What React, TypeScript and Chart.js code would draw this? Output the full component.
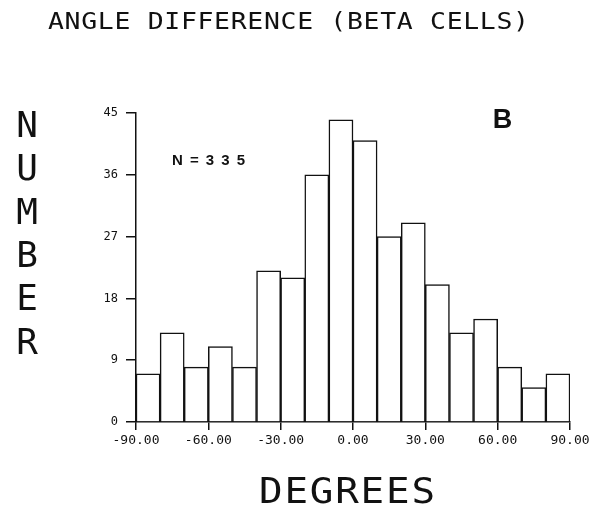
import React, { useEffect, useRef } from "react";
import { Chart, registerables } from "chart.js";

Chart.register(...registerables);

// Histogram of angle differences, 10-degree bins from -90 to 90
const binCenters = [-85, -75, -65, -55, -45, -35, -25, -15, -5, 5, 15, 25, 35, 45, 55, 65, 75, 85];
const counts = [7, 13, 8, 11, 8, 22, 21, 36, 44, 41, 27, 29, 20, 13, 15, 8, 5, 7];

const xMin = -90;
const xMax = 90;
const xTickStep = 30;
const yMin = 0;
const yMax = 45;
const yTickStep = 9;

const titleText = "ANGLE DIFFERENCE (BETA CELLS)";
const yAxisTitle = "NUMBER";
const xAxisTitle = "DEGREES";
const sampleLabel = `N=${counts.reduce((a, b) => a + b, 0)}`;
const panelLabel = "B";

const INK = "#111";
const MONO = "'DejaVu Sans Mono', 'Liberation Mono', monospace";
const SANS = "'Liberation Sans', Arial, sans-serif";

// Draws text character by character, each glyph widened by sx, so it spans x0..x1
function spreadText(
  ctx: CanvasRenderingContext2D,
  text: string,
  x0: number,
  x1: number,
  baseline: number,
  sx = 1
) {
  const chars = Array.from(text);
  const widths = chars.map((c) => ctx.measureText(c).width * sx);
  const total = widths.reduce((a, b) => a + b, 0);
  const gap = chars.length > 1 ? (x1 - x0 - total) / (chars.length - 1) : 0;
  ctx.textAlign = "left";
  ctx.textBaseline = "alphabetic";
  let x = x0;
  chars.forEach((c, i) => {
    ctx.save();
    ctx.translate(x, baseline);
    ctx.scale(sx, 1);
    ctx.fillText(c, 0, 0);
    ctx.restore();
    x += widths[i] + gap;
  });
}

const annotationPlugin = {
  id: "plotterText",
  afterDraw(chart: Chart) {
    const ctx = chart.ctx;
    ctx.save();
    ctx.fillStyle = INK;

    // Title
    ctx.font = `23px ${MONO}`;
    spreadText(ctx, titleText, 48, 529, 29, 1.15);

    // Vertical y-axis title, one letter per line
    ctx.font = `36px ${MONO}`;
    ctx.textAlign = "center";
    ctx.textBaseline = "alphabetic";
    Array.from(yAxisTitle).forEach((c, i) => {
      ctx.fillText(c, 27, 137 + i * 43.3);
    });

    // x-axis title
    ctx.font = `35px ${MONO}`;
    spreadText(ctx, xAxisTitle, 259, 435, 503, 1.12);

    // Sample size
    ctx.font = `bold 15px ${SANS}`;
    spreadText(ctx, sampleLabel, 172, 245, 165);

    // Panel letter
    ctx.font = `bold 27px ${SANS}`;
    ctx.textAlign = "center";
    ctx.fillText(panelLabel, 502.5, 128);

    ctx.restore();
  },
};

export default function App() {
  const canvasRef = useRef<HTMLCanvasElement | null>(null);

  useEffect(() => {
    const canvas = canvasRef.current;
    if (!canvas) return;
    const chart = new Chart(canvas, {
      type: "bar",
      data: {
        datasets: [
          {
            data: binCenters.map((x, i) => ({ x, y: counts[i] })),
            backgroundColor: "#ffffff",
            borderColor: INK,
            borderWidth: 1.5,
            barPercentage: 1,
            categoryPercentage: 1,
          },
        ],
      },
      options: {
        responsive: false,
        animation: false,
        layout: { padding: { top: 113, right: 30, left: 0, bottom: 0 } },
        plugins: {
          legend: { display: false },
          tooltip: { enabled: false },
          title: { display: false },
        },
        scales: {
          x: {
            type: "linear",
            min: xMin,
            max: xMax,
            offset: false,
            afterFit: (s: any) => {
              s.height = 91;
            },
            ticks: {
              stepSize: xTickStep,
              autoSkip: false,
              maxRotation: 0,
              color: INK,
              padding: 3,
              font: { family: MONO, size: 13 },
              callback: (v: any) => Number(v).toFixed(2),
            },
            grid: {
              display: true,
              offset: false,
              drawOnChartArea: false,
              drawTicks: true,
              tickLength: 8,
              color: INK,
              lineWidth: 1.5,
            },
            border: { display: true, color: INK, width: 1.5 },
          },
          y: {
            min: yMin,
            max: yMax,
            afterFit: (s: any) => {
              s.width = 136;
            },
            ticks: {
              stepSize: yTickStep,
              color: INK,
              padding: 8,
              font: { family: MONO, size: 12 },
            },
            grid: {
              display: true,
              drawOnChartArea: false,
              drawTicks: true,
              tickLength: 10,
              color: INK,
              lineWidth: 1.5,
            },
            border: { display: true, color: INK, width: 1.5 },
          },
        },
      } as any,
      plugins: [annotationPlugin],
    });
    return () => chart.destroy();
  }, []);

  return (
    <div style={{ position: "fixed", left: 0, top: 0, width: 600, height: 513, background: "#fff" }}>
      <canvas ref={canvasRef} width={600} height={513} style={{ display: "block" }} />
    </div>
  );
}
